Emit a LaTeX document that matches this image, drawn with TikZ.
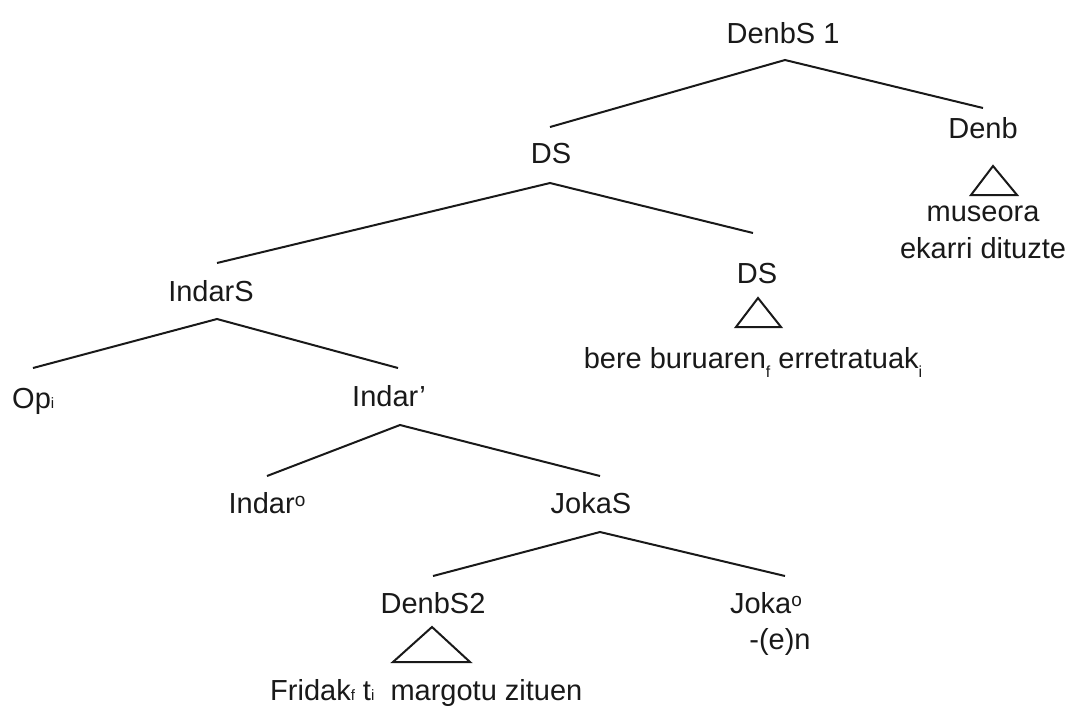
\documentclass[tikz,border=0pt]{standalone}
\usepackage{fontspec}
\setmainfont{Liberation Sans}
\newcommand{\lowsub}[1]{\raisebox{-9pt}{\fontsize{16}{16}\selectfont #1}}
\newcommand{\smsub}[1]{{\fontsize{15}{15}\selectfont #1}}
\newcommand{\ordo}[1]{\raisebox{7pt}{\fontsize{19}{19}\selectfont #1}}
\begin{document}
\begin{tikzpicture}[x=1pt,y=-1pt,
  lbl/.style={inner sep=0pt,anchor=base,font=\fontsize{29}{36}\selectfont,text=black!90},
  edge/.style={line width=2pt,black!90},
  tri/.style={line width=2pt,black!90,line join=miter}]
\useasboundingbox (0,0) rectangle (1073,705);
% labels
\node[lbl] (denbs1) at (783,43) {DenbS 1};
\node[lbl] (ds1) at (551,163) {DS};
\node[lbl] (denb) at (983,138) {Denb};
\node[lbl] (museora) at (983,221) {museora};
\node[lbl] (ekarri) at (983,258) {ekarri dituzte};
\node[lbl] (indars) at (211,301) {IndarS};
\node[lbl] (ds2) at (757,283) {DS};
\node[lbl] (bere) at (753,368) {bere buruaren\lowsub{f} erretratuak\lowsub{i}};
\node[lbl,anchor=base west] (op) at (12,408) {Op\smsub{i}};
\node[lbl,anchor=base west] (indarp) at (352,406) {Indar’};
\node[lbl] (indaro) at (267,513) {Indar\ordo{o}};
\node[lbl] (jokas) at (591,513) {JokaS};
\node[lbl] (denbs2) at (433,613) {DenbS2};
\node[lbl] (jokao) at (766,613) {Joka\ordo{o}};
\node[lbl] (en) at (780,649) {-(e)n};
\node[lbl,anchor=base west] (fridak) at (270,700) {Fridak\smsub{f} t\smsub{i}\ \ margotu zituen};
% branch points
\coordinate (a1) at (785,60);
\coordinate (a1l) at (550,127);
\coordinate (a1r) at (983,108);
\coordinate (a2) at (550,183);
\coordinate (a2l) at (217,263);
\coordinate (a2r) at (753,233);
\coordinate (a3) at (217,319);
\coordinate (a3l) at (33,368);
\coordinate (a3r) at (398,368);
\coordinate (a4) at (400,425);
\coordinate (a4l) at (267,476);
\coordinate (a4r) at (600,476);
\coordinate (a5) at (600,532);
\coordinate (a5l) at (433,576);
\coordinate (a5r) at (785,576);
\draw[edge] (a1l) -- (a1) -- (a1r);
\draw[edge] (a2l) -- (a2) -- (a2r);
\draw[edge] (a3l) -- (a3) -- (a3r);
\draw[edge] (a4l) -- (a4) -- (a4r);
\draw[edge] (a5l) -- (a5) -- (a5r);
% triangles
\draw[tri] (758,298) -- (781,327) -- (736,327) -- cycle;
\draw[tri] (993,166) -- (1017,195) -- (971,195) -- cycle;
\draw[tri] (432,627) -- (470,662) -- (393,662) -- cycle;
\end{tikzpicture}
\end{document}
